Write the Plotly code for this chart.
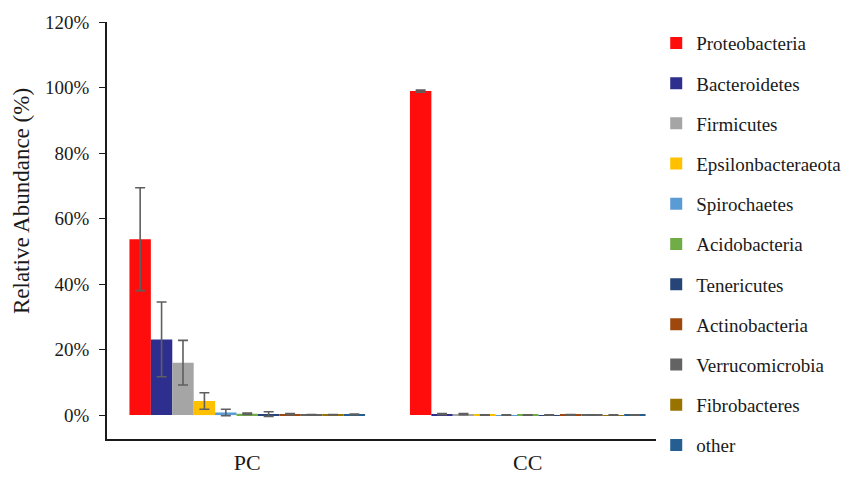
import plotly.graph_objects as go

groups = ["PC", "CC"]
phyla = ["Proteobacteria", "Bacteroidetes", "Firmicutes", "Epsilonbacteraeota",
         "Spirochaetes", "Acidobacteria", "Tenericutes", "Actinobacteria",
         "Verrucomicrobia", "Fibrobacteres", "other"]

# mean relative abundance (%) per phylum: [PC, CC]
proteobacteria = [53.7, 98.9]
bacteroidetes = [23.1, 0.3]
firmicutes = [16.0, 0.3]
epsilonbacteraeota = [4.3, 0.05]
spirochaetes = [0.8, 0.02]
acidobacteria = [0.4, 0.05]
tenericutes = [0.3, 0.02]
actinobacteria = [0.3, 0.1]
verrucomicrobia = [0.1, 0.05]
fibrobacteres = [0.1, 0.02]
other = [0.2, 0.05]

# standard deviations (%)
proteobacteria_sd = [15.7, 0.3]
bacteroidetes_sd = [11.4, 0.2]
firmicutes_sd = [6.8, 0.2]
epsilonbacteraeota_sd = [2.5, 0.05]
spirochaetes_sd = [1.0, 0.05]
acidobacteria_sd = [0.2, 0.05]
tenericutes_sd = [0.7, 0.05]
actinobacteria_sd = [0.2, 0.1]
verrucomicrobia_sd = [0.1, 0.05]
fibrobacteres_sd = [0.05, 0.05]
other_sd = [0.1, 0.05]

colors = ["#FF0D0D", "#2E2E8F", "#A5A5A5", "#FFC000", "#5B9BD5", "#70AD47",
          "#264478", "#9E480E", "#636363", "#997300", "#255E91"]

means = [proteobacteria, bacteroidetes, firmicutes, epsilonbacteraeota, spirochaetes,
         acidobacteria, tenericutes, actinobacteria, verrucomicrobia, fibrobacteres, other]
sds = [proteobacteria_sd, bacteroidetes_sd, firmicutes_sd, epsilonbacteraeota_sd,
       spirochaetes_sd, acidobacteria_sd, tenericutes_sd, actinobacteria_sd,
       verrucomicrobia_sd, fibrobacteres_sd, other_sd]

FONT = "Liberation Serif, Times New Roman, serif"
INK = "#1a1a1a"

fig = go.Figure()
for name, m, s, c in zip(phyla, means, sds, colors):
    fig.add_trace(go.Bar(
        x=groups, y=m, name=name, legendgroup=name,
        marker=dict(color=c, line=dict(width=0)),
        error_y=dict(type="data", array=s, visible=True,
                     color="#5f5f5f", thickness=1.6, width=5),
    ))

# y-axis title placed as a rotated annotation, sitting a little above the axis middle
fig.add_annotation(
    text="Relative Abundance (%)", textangle=-90,
    xref="paper", yref="paper", x=-0.152, y=0.57,
    xanchor="center", yanchor="middle", showarrow=False,
    font=dict(family=FONT, size=23, color=INK),
)

fig.update_layout(
    width=846, height=477,
    margin=dict(l=107, r=178, t=22, b=38, autoexpand=False),
    paper_bgcolor="white", plot_bgcolor="white",
    barmode="group", bargap=0.16, bargroupgap=0,
    font=dict(family=FONT, size=19, color=INK),
    legend=dict(
        x=0.979, y=0.995, xanchor="left", yanchor="top",
        font=dict(family=FONT, size=19, color=INK),
        tracegroupgap=12.5, itemwidth=30, maxheight=470,
    ),
    xaxis=dict(
        showline=True, linecolor=INK, linewidth=1.5, automargin=False,
        ticks="", showgrid=False, tickfont=dict(size=22), ticklabelstandoff=3,
    ),
    yaxis=dict(
        range=[-7.3, 120], tickvals=[0, 20, 40, 60, 80, 100, 120],
        ticktext=["0%", "20%", "40%", "60%", "80%", "100%", "120%"],
        showline=True, linecolor=INK, linewidth=1.5, automargin=False,
        ticks="outside", ticklen=6, tickcolor=INK, ticklabelstandoff=6,
        showgrid=False, zeroline=False, tickfont=dict(size=19),
    ),
)

fig.write_html("out.html")
